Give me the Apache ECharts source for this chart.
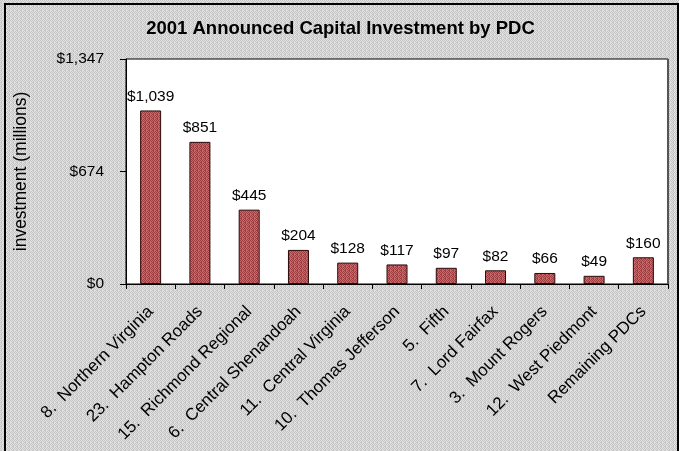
<!DOCTYPE html>
<html><head><meta charset="utf-8">
<script src="https://cdn.jsdelivr.net/npm/echarts@6/dist/echarts.min.js"></script>
<style>html,body{margin:0;padding:0;background:#fff}#c{width:681px;height:451px}</style>
</head><body><div id="c"></div>
<script>
var categories = ['8.  Northern Virginia','23.  Hampton Roads','15.  Richmond Regional','6.  Central Shenandoah','11.  Central Virginia','10.  Thomas Jefferson','5.  Fifth','7.  Lord Fairfax','3.  Mount Rogers','12.  West Piedmont','Remaining PDCs'];
var values = [1039, 851, 445, 204, 128, 117, 97, 82, 66, 49, 160];
var yTicks = [0, 673.5, 1347];
var titleText = '2001 Announced Capital Investment by PDC';
var yName = 'investment (millions)';

function makePattern(c1, c2) {
  var cv = document.createElement('canvas');
  cv.width = 4; cv.height = 4;
  var ctx = cv.getContext('2d');
  ctx.fillStyle = c1; ctx.fillRect(0,0,4,4);
  ctx.fillStyle = c2;
  ctx.fillRect(0,0,1,1); ctx.fillRect(2,0,1,1);
  ctx.fillRect(1,1,1,1); ctx.fillRect(3,1,1,1);
  ctx.fillRect(0,2,2,1);
  ctx.fillRect(1,3,1,1); ctx.fillRect(3,3,1,1);
  return cv;
}
var bgPat = makePattern('#e2e2e2', '#c4c4c4');
var barPat = makePattern('#c76a6c', '#9e3c40');

function money(v) {
  return '$' + Math.round(v).toString().replace(/\B(?=(\d{3})+(?!\d))/g, ',');
}
var FF = 'Liberation Sans, Arial, sans-serif';

var chart = echarts.init(document.getElementById('c'), null, {renderer: 'canvas'});
chart.setOption({
  backgroundColor: {image: bgPat, repeat: 'repeat'},
  animation: false,
  textStyle: {fontFamily: FF},
  title: {
    text: titleText, left: 'center', top: 14,
    textStyle: {fontSize: 18.5, fontWeight: 'bold', color: '#000', fontFamily: FF}
  },
  grid: {left: 126, right: 13, top: 59, bottom: 167, containLabel: false, outerBoundsMode: 'none',
    show: true, backgroundColor: '#fff', borderColor: '#000', borderWidth: 1},
  xAxis: {
    type: 'category', data: categories,
    axisLine: {lineStyle: {color: '#000', width: 1}},
    axisTick: {show: true, alignWithLabel: false, length: 5, lineStyle: {color: '#000'}},
    axisLabel: {rotate: 45, color: '#000', fontSize: 17, margin: 25, interval: 0, fontFamily: FF}
  },
  yAxis: {
    type: 'value', min: 0, max: yTicks[2], interval: yTicks[1],
    name: yName, nameLocation: 'middle', nameGap: 96,
    nameTextStyle: {fontSize: 17.5, color: '#000', fontFamily: FF},
    axisLine: {show: true, lineStyle: {color: '#000', width: 1}},
    axisTick: {show: true, length: 6, lineStyle: {color: '#000'}},
    splitLine: {show: false},
    axisLabel: {color: '#000', fontSize: 15.5, margin: 22, formatter: function (v) { return money(v); }, fontFamily: FF}
  },
  series: [{
    type: 'bar', data: values, barWidth: 21,
    itemStyle: {color: {image: barPat, repeat: 'repeat'}, borderColor: '#2a0a0a', borderWidth: 1},
    label: {show: true, position: 'top', distance: 6, color: '#000', fontSize: 15.5,
      fontFamily: FF,
      formatter: function (p) { return money(p.value); }}
  }],
  graphic: [
    {type: 'rect', shape: {x: 5, y: 4, width: 673, height: 452}, style: {fill: 'none', stroke: '#000', lineWidth: 2}, z: 100},
    {type: 'rect', shape: {x: 679, y: 0, width: 2, height: 451}, style: {fill: '#fff'}, z: 99},
    {type: 'line', shape: {x1: 668, y1: 59, x2: 668, y2: 284}, style: {stroke: '#555', lineWidth: 2}, z: 100}
  ]
});
</script></body></html>
